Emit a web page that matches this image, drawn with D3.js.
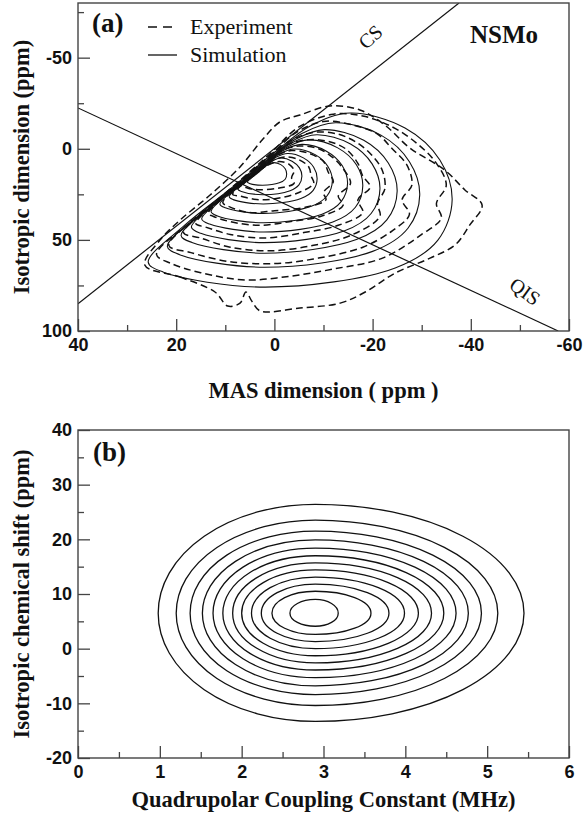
<!DOCTYPE html>
<html lang="en">
<head>
<meta charset="utf-8">
<title>NSMo MQMAS contours</title>
<script src="https://d3js.org/d3.v7.min.js"></script>
<style>
  body { margin: 0; background: #fff; }
  svg { display: block; }
  .axis text { font-family: "Liberation Sans", Arial, sans-serif; font-weight: bold; font-size: 18px; fill: #111; }
  .axis line { stroke: #444; stroke-width: 1.3; }
  .axis path { display: none; }
  .title { font-family: "Liberation Serif", "Times New Roman", serif; font-weight: bold; font-size: 22.5px; fill: #111; }
  .serif { font-family: "Liberation Serif", "Times New Roman", serif; fill: #111; }
</style>
</head>
<body>
<svg width="584" height="821"></svg>
<script>
  // ---- panel (a) data: MAS dimension (x, ppm) vs isotropic dimension (y, ppm)
  const aXTicks = [40, 20, 0, -20, -40, -60];
  const aXMinor = [30, 10, -10, -30, -50];
  const aYTicks = [-50, 0, 50, 100];
  const aYMinor = [-75, -25, 25, 75];
  const csLine = [[40, 85], [-37.6, -80]];
  const qisLine = [[40, -22.4], [-57.8, 100]];
  const legendItems = ["Experiment", "Simulation"];

  // simulated contours (solid), outer to inner
  const simContours = [
    [[25.7,62.2],[18.2,41.8],[9.0,22.1],[-0.1,1.8],[-7.3,-12.5],[-15.4,-19.6],[-26.6,-11.4],[-33.7,6.2],[-36.2,28.1],[-33.3,50.1],[-24.6,65.4],[1.9,75.9],[22.7,67.6]],
    [[21.8,53.6],[15.5,36.7],[7.9,20.3],[0.3,3.5],[-5.6,-8.4],[-12.4,-14.3],[-21.7,-7.5],[-27.5,7.1],[-29.6,25.3],[-27.2,43.6],[-20.0,56.3],[2.0,65.0],[19.3,58.1]],
    [[19.0,47.6],[13.6,33.1],[7.1,19.1],[0.7,4.7],[-4.5,-5.5],[-10.2,-10.5],[-18.2,-4.7],[-23.2,7.8],[-25.0,23.3],[-22.9,39.0],[-16.7,49.8],[2.1,57.3],[16.8,51.4]],
    [[16.9,43.0],[12.2,30.4],[6.5,18.1],[0.9,5.6],[-3.6,-3.3],[-8.6,-7.7],[-15.5,-2.6],[-19.9,8.3],[-21.5,21.9],[-19.7,35.5],[-14.3,45.0],[2.1,51.5],[15.0,46.4]],
    [[14.8,38.5],[10.8,27.7],[5.9,17.2],[1.1,6.5],[-2.7,-1.1],[-7.0,-4.9],[-12.9,-0.5],[-16.7,8.8],[-18.0,20.4],[-16.5,32.1],[-11.9,40.2],[2.2,45.7],[13.2,41.3]],
    [[12.9,34.4],[9.6,25.2],[5.4,16.4],[1.3,7.2],[-1.9,0.8],[-5.6,-2.4],[-10.6,1.3],[-13.8,9.2],[-14.9,19.1],[-13.6,29.0],[-9.7,35.9],[2.2,40.6],[11.6,36.9]],
    [[11.1,30.4],[8.3,22.8],[4.9,15.5],[1.5,8.0],[-1.1,2.7],[-4.1,0.1],[-8.3,3.2],[-10.9,9.7],[-11.8,17.8],[-10.7,25.9],[-7.5,31.6],[2.3,35.5],[10.0,32.4]],
    [[9.2,26.3],[7.1,20.4],[4.4,14.7],[1.7,8.8],[-0.3,4.7],[-2.7,2.6],[-5.9,5.0],[-8.0,10.1],[-8.7,16.5],[-7.9,22.8],[-5.4,27.3],[2.3,30.3],[8.4,27.9]],
    [[7.4,22.3],[5.8,18.0],[3.9,13.9],[2.0,9.6],[0.4,6.6],[-1.3,5.1],[-3.6,6.8],[-5.1,10.5],[-5.6,15.1],[-5.0,19.8],[-3.2,23.0],[2.4,25.2],[6.7,23.4]],
    [[5.5,18.3],[4.5,15.6],[3.3,13.1],[2.2,10.4],[1.2,8.6],[0.2,7.6],[-1.3,8.7],[-2.2,11.0],[-2.5,13.8],[-2.2,16.7],[-1.0,18.7],[2.4,20.0],[5.1,19.0]]
  ];

  // experimental contours (dashed), outer to inner
  const expContours = [
    [[26.4,63.8],[19.2,70.4],[12.1,78.6],[9.5,86.3],[7.0,84.7],[5.8,78.6],[4.6,83.6],[2.9,89.0],[-5.2,87.4],[-13.4,84.7],[-18.5,78.6],[-24.6,68.2],[-31.7,60.0],[-36.8,52.8],[-39.8,41.8],[-42.3,30.9],[-38.8,22.6],[-34.7,11.7],[-27.6,-0.4],[-22.5,-13.0],[-17.4,-21.3],[-11.3,-23.5],[-5.2,-18.5],[-1.1,-14.7],[2.5,-4.8],[7.0,10.0],[13.1,25.4],[19.2,39.1],[23.3,50.1]],
    [[24,58],[17,40],[9,22],[1,3],[-5,-12],[-12,-19],[-18,-18],[-24,-12],[-29,-3],[-33,8],[-35,20],[-33,30],[-34,38],[-30,47],[-22,60],[-12,66],[-3,70],[6,72],[15,68],[21,63]],
    [[21.5,53],[15,36],[8,20],[1,4],[-4.5,-9],[-10,-15],[-16,-13],[-21,-8],[-24,0],[-27,9],[-28,20],[-26,28],[-27.5,36],[-24,45],[-18,54],[-9,60],[0,63],[9,62],[17,57]],
    [[18.5,46],[13,32],[7,18.5],[1.5,5],[-3,-4],[-8,-9],[-13,-8],[-17,-3],[-20,4],[-22,12],[-22.5,22],[-21,30],[-21.5,37],[-16,47],[-8,53],[1,56],[9,54],[15,49]],
    [[16,41],[11.5,29],[6,17],[1.5,6],[-2.5,-2],[-7,-5],[-11,-4],[-14.5,0],[-17,8],[-18,15],[-19.5,21],[-17,28],[-18,35],[-13,42],[-6,46],[2,49],[9,47],[14,43]],
    [[13.5,35.5],[10,26],[5.5,16.5],[1.5,7],[-1.5,1],[-5,-1.5],[-9,0],[-12,5],[-14,11],[-15.5,19],[-13,26],[-14,31],[-9.5,37],[-3,40],[3,42],[9,40],[12.5,37]],
    [[10.5,29.5],[8,22],[4.5,15],[1.5,8.5],[-1,3],[-3.5,1],[-7,2.5],[-10,7],[-11,13],[-12,18],[-10,24],[-10.5,28],[-6.5,32],[0,34],[5,35],[9,32]],
    [[8.5,25],[6.5,19.5],[4,14],[1.8,9.5],[0,6],[-2.2,4.5],[-5,6],[-7,10],[-7.5,15],[-8,19],[-5,24],[-1,27],[3,28],[7,26]],
    [[6.5,20],[5,16.5],[3.5,13],[2,10],[0.5,8],[-1,7],[-3,8.5],[-4,12],[-3.5,16],[-4,19],[-1,21.5],[3,22.5],[5.5,21.5]]
  ];

  // ---- panel (b) data: Cq (MHz) vs isotropic chemical shift (ppm)
  const bXTicks = [0, 1, 2, 3, 4, 5, 6];
  const bXMinor = [0.5, 1.5, 2.5, 3.5, 4.5, 5.5];
  const bYTicks = [-20, -10, 0, 10, 20, 30, 40];
  const bYMinor = [-15, -5, 5, 15, 25, 35];
  const bPeakX = 2.9;      // Cq where each contour reaches its top / bottom
  const bPeakY = 6.5;      // shift where each contour reaches its left / right
  const bLeft   = [0.98, 1.2, 1.37, 1.52, 1.65, 1.77, 1.89, 2.0, 2.12, 2.24, 2.37, 2.59];
  const bRight  = [5.45, 5.13, 4.93, 4.77, 4.62, 4.47, 4.32, 4.16, 3.99, 3.8, 3.58, 3.18];
  const bTop    = [26.4, 23.5, 21.5, 19.9, 18.4, 17.0, 15.7, 14.4, 13.1, 11.8, 10.5, 9.0];
  const bBottom = [-13.3, -10.4, -8.4, -6.8, -5.3, -3.9, -2.6, -1.3, 0, 1.3, 2.6, 4.1];

  const svg = d3.select("svg");
  const left = 78, right = 569;

  // Panel frames
  const panels = [
    { id: "a", top: 3, bottom: 331 },
    { id: "b", top: 430, bottom: 758 }
  ];

  // Scales
  const xA = d3.scaleLinear().domain([40, -60]).range([left, right]);
  const yA = d3.scaleLinear().domain([-80, 100]).range([3, 331]);
  const xB = d3.scaleLinear().domain([0, 6]).range([left, right]);
  const yB = d3.scaleLinear().domain([-20, 40]).range([758, 430]);

  const fmt = d => String(d);

  function drawAxes(g, x, y, top, bottom, xt, xm, yt, ym) {
    g.append("g").attr("class", "axis")
      .attr("transform", `translate(0,${bottom})`)
      .call(d3.axisBottom(x).tickValues(xt).tickSize(-12).tickPadding(7).tickFormat(fmt));
    g.append("g").attr("class", "axis")
      .attr("transform", `translate(0,${bottom})`)
      .call(d3.axisBottom(x).tickValues(xm).tickSize(-6).tickFormat(""));
    g.append("g").attr("class", "axis")
      .attr("transform", `translate(${left},0)`)
      .call(d3.axisLeft(y).tickValues(yt).tickSize(-12).tickPadding(6).tickFormat(fmt));
    g.append("g").attr("class", "axis")
      .attr("transform", `translate(${left},0)`)
      .call(d3.axisLeft(y).tickValues(ym).tickSize(-6).tickFormat(""));
    g.append("rect")
      .attr("x", left).attr("y", top)
      .attr("width", right - left).attr("height", bottom - top)
      .attr("fill", "none").attr("stroke", "#444").attr("stroke-width", 1.4);
  }

  // clip paths
  const defs = svg.append("defs");
  panels.forEach(p => {
    defs.append("clipPath").attr("id", "clip-" + p.id)
      .append("rect").attr("x", left).attr("y", p.top)
      .attr("width", right - left).attr("height", p.bottom - p.top);
  });

  // ---------------- Panel (a)
  const gA = svg.append("g");
  const plotA = gA.append("g").attr("clip-path", "url(#clip-a)");

  const contourLine = d3.line()
    .x(d => xA(d[0]))
    .y(d => yA(d[1]))
    .curve(d3.curveCatmullRomClosed.alpha(0.5));

  plotA.selectAll(".sim").data(simContours).enter()
    .append("path").attr("class", "sim")
    .attr("d", contourLine)
    .attr("fill", "none").attr("stroke", "#111").attr("stroke-width", 1.1);

  plotA.selectAll(".exp").data(expContours).enter()
    .append("path").attr("class", "exp")
    .attr("d", contourLine)
    .attr("fill", "none").attr("stroke", "#111").attr("stroke-width", 1.5)
    .attr("stroke-dasharray", "7,4");

  const straight = d3.line().x(d => xA(d[0])).y(d => yA(d[1]));
  plotA.append("path").datum(csLine).attr("d", straight)
    .attr("fill", "none").attr("stroke", "#111").attr("stroke-width", 1.2);
  plotA.append("path").datum(qisLine).attr("d", straight)
    .attr("fill", "none").attr("stroke", "#111").attr("stroke-width", 1.2);

  drawAxes(gA, xA, yA, 3, 331, aXTicks, aXMinor, aYTicks, aYMinor);

  // line labels
  gA.append("text").attr("class", "serif")
    .attr("transform", `translate(375,42) rotate(-42)`)
    .attr("text-anchor", "middle").attr("font-size", 20).text("CS");
  gA.append("text").attr("class", "serif")
    .attr("transform", `translate(521,297) rotate(36)`)
    .attr("text-anchor", "middle").attr("font-size", 20).text("QIS");

  // panel tag, legend, compound name
  gA.append("text").attr("class", "serif")
    .attr("x", 92).attr("y", 32).attr("font-size", 27).attr("font-weight", "bold").text("(a)");
  const leg = gA.append("g");
  legendItems.forEach((name, i) => {
    const ly = 27 + i * 28;
    leg.append("line").attr("x1", 148).attr("x2", 177).attr("y1", ly).attr("y2", ly)
      .attr("stroke", "#111").attr("stroke-width", 1.3)
      .attr("stroke-dasharray", i === 0 ? "9,6" : null);
    leg.append("text").attr("class", "serif")
      .attr("x", 190).attr("y", ly + 7).attr("font-size", 22).text(name);
  });
  gA.append("text").attr("class", "serif")
    .attr("x", 470).attr("y", 43).attr("font-size", 25).attr("font-weight", "bold").text("NSMo");

  gA.append("text").attr("class", "title")
    .attr("x", (left + right) / 2).attr("y", 398).attr("text-anchor", "middle")
    .text("MAS dimension ( ppm )");
  gA.append("text").attr("class", "title")
    .attr("transform", `translate(29,${(3 + 331) / 2}) rotate(-90)`)
    .attr("text-anchor", "middle")
    .text("Isotropic dimension (ppm)");

  // ---------------- Panel (b)
  const gB = svg.append("g");
  const plotB = gB.append("g").attr("clip-path", "url(#clip-b)");

  // each contour: four quarter-ellipse arcs through its left/top/right/bottom extremes
  function eggPath(i) {
    const cx = xB(bPeakX), cy = yB(bPeakY);
    const l = xB(bLeft[i]), r = xB(bRight[i]), t = yB(bTop[i]), b = yB(bBottom[i]);
    const rl = cx - l, rr = r - cx, rt = cy - t, rb = b - cy;
    return `M${l},${cy}` +
      `A${rl},${rt} 0 0 1 ${cx},${t}` +
      `A${rr},${rt} 0 0 1 ${r},${cy}` +
      `A${rr},${rb} 0 0 1 ${cx},${b}` +
      `A${rl},${rb} 0 0 1 ${l},${cy}Z`;
  }

  plotB.selectAll(".dist").data(d3.range(bLeft.length)).enter()
    .append("path").attr("class", "dist")
    .attr("d", eggPath)
    .attr("fill", "none").attr("stroke", "#111").attr("stroke-width", 1.3);

  drawAxes(gB, xB, yB, 430, 758, bXTicks, bXMinor, bYTicks, bYMinor);

  gB.append("text").attr("class", "serif")
    .attr("x", 93).attr("y", 461).attr("font-size", 27).attr("font-weight", "bold").text("(b)");

  gB.append("text").attr("class", "title")
    .attr("x", (left + right) / 2).attr("y", 807).attr("text-anchor", "middle")
    .text("Quadrupolar Coupling Constant (MHz)");
  gB.append("text").attr("class", "title")
    .attr("transform", `translate(29,${(430 + 758) / 2}) rotate(-90)`)
    .attr("text-anchor", "middle")
    .text("Isotropic chemical shift (ppm)");
</script>
</body>
</html>
